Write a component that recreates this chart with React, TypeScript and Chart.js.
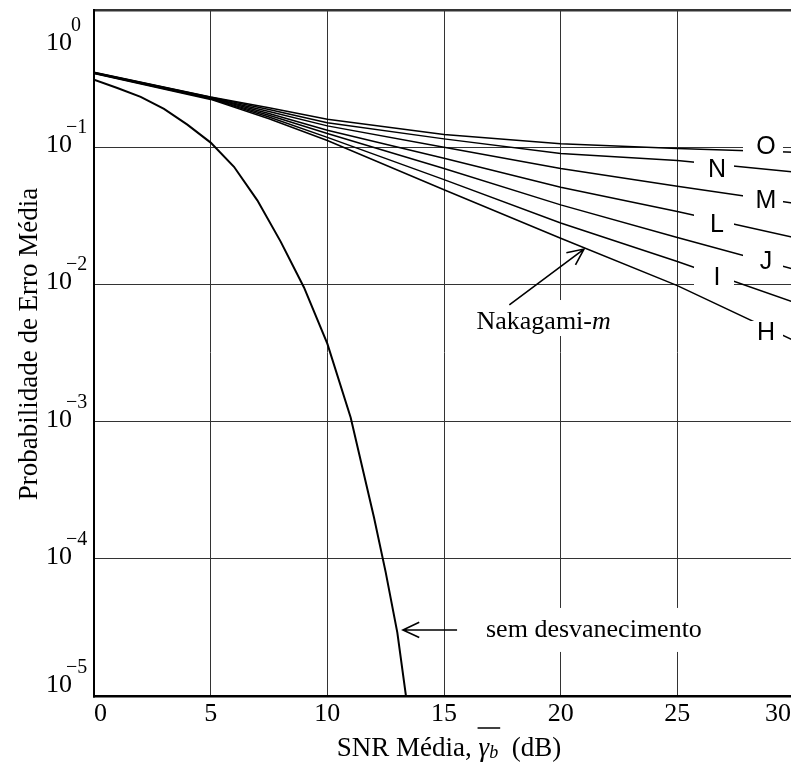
import React, { useEffect, useRef } from 'react';
import { Chart, registerables } from 'chart.js';

Chart.register(...registerables);

// ---- data ----
const snrFading = [0, 5, 7.5, 10, 15, 20, 25, 30];
const curveO = [0.352, 0.232, 0.194, 0.160, 0.124, 0.106, 0.098, 0.092];
const curveN = [0.350, 0.231, 0.188, 0.151, 0.115, 0.090, 0.080, 0.066];
const curveM = [0.349, 0.229, 0.182, 0.143, 0.100, 0.070, 0.052, 0.039];
const curveL = [0.348, 0.228, 0.176, 0.133, 0.083, 0.051, 0.034, 0.022];
const curveJ = [0.347, 0.226, 0.171, 0.126, 0.070, 0.038, 0.022, 0.0129];
const curveI = [0.346, 0.225, 0.166, 0.118, 0.058, 0.028, 0.0147, 0.0074];
const curveH = [0.345, 0.223, 0.161, 0.112, 0.049, 0.0217, 0.0098, 0.0039];
const curveNames = ['O', 'N', 'M', 'L', 'J', 'I', 'H'];
const labelSnr = [28.8, 26.7, 28.8, 26.7, 28.8, 26.7, 28.8];
const labelValue = [0.101, 0.0694, 0.0412, 0.0275, 0.0148, 0.0113, 0.0045];

const snrAwgn = [0, 1, 2, 3, 4, 5, 6, 7, 8, 9, 10, 11, 12, 12.5, 13, 13.37];
const awgn = [0.31, 0.27, 0.233, 0.19, 0.146, 0.108, 0.072, 0.041, 0.0205, 0.0095, 0.0037, 0.00107, 0.0002, 0.00008, 0.000029, 0.00001];

const xTicks = [0, 5, 10, 15, 20, 25, 30];
const yTicks = [1, 0.1, 0.01, 0.001, 0.0001, 0.00001];
const yExponents = [0, -1, -2, -3, -4, -5];

const fadingSeries = [curveO, curveN, curveM, curveL, curveJ, curveI, curveH];

const SERIF = '"Liberation Serif", "Times New Roman", serif';
const SANS = '"Liberation Sans", Arial, sans-serif';

function drawArrow(ctx: CanvasRenderingContext2D, x1: number, y1: number, x2: number, y2: number) {
  const ang = Math.atan2(y2 - y1, x2 - x1);
  const len = 18;
  const spread = (25 * Math.PI) / 180;
  ctx.beginPath();
  ctx.moveTo(x1, y1);
  ctx.lineTo(x2, y2);
  ctx.moveTo(x2 + len * Math.cos(ang + Math.PI - spread), y2 + len * Math.sin(ang + Math.PI - spread));
  ctx.lineTo(x2, y2);
  ctx.lineTo(x2 + len * Math.cos(ang + Math.PI + spread), y2 + len * Math.sin(ang + Math.PI + spread));
  ctx.stroke();
}

const overlayPlugin = {
  id: 'overlay',
  afterDraw(chart: any) {
    const ctx: CanvasRenderingContext2D = chart.ctx;
    const xs = chart.scales.x;
    const ys = chart.scales.y;
    const area = chart.chartArea;
    ctx.save();

    // curve labels (with white gaps in the lines)
    ctx.font = `25px ${SANS}`;
    ctx.textAlign = 'center';
    ctx.textBaseline = 'middle';
    curveNames.forEach((name, i) => {
      const px = xs.getPixelForValue(labelSnr[i]);
      const py = ys.getPixelForValue(labelValue[i]);
      ctx.fillStyle = '#fff';
      ctx.fillRect(px - 23, py - 11, 40, 22);
      ctx.fillStyle = '#000';
      ctx.fillText(name, px, py + 1);
    });

    // Nakagami-m annotation
    ctx.strokeStyle = '#000';
    ctx.lineWidth = 1.6;
    ctx.fillStyle = '#000';
    const nx = xs.getPixelForValue(19.27);
    const ny = ys.getPixelForValue(0.0055);
    ctx.font = `26px ${SERIF}`;
    const w1 = ctx.measureText('Nakagami-').width;
    ctx.font = `italic 26px ${SERIF}`;
    const w2 = ctx.measureText('m').width;
    const nStart = nx - (w1 + w2) / 2;
    ctx.fillStyle = '#fff';
    ctx.fillRect(nStart - 5, ny - 20, w1 + w2 + 10, 36);
    ctx.fillStyle = '#000';
    ctx.textAlign = 'left';
    ctx.textBaseline = 'alphabetic';
    ctx.font = `26px ${SERIF}`;
    ctx.fillText('Nakagami-', nStart, ny + 9);
    ctx.font = `italic 26px ${SERIF}`;
    ctx.fillText('m', nStart + w1, ny + 9);
    drawArrow(ctx, xs.getPixelForValue(17.8), ys.getPixelForValue(0.0071), xs.getPixelForValue(21.0), ys.getPixelForValue(0.0181));

    // sem desvanecimento annotation
    const sy = ys.getPixelForValue(0.0000303);
    const sx0 = xs.getPixelForValue(16.8);
    ctx.font = `26px ${SERIF}`;
    const sw = ctx.measureText('sem desvanecimento').width;
    ctx.fillStyle = '#fff';
    ctx.fillRect(sx0 - 6, sy - 22, sw + 12, 44);
    ctx.fillStyle = '#000';
    ctx.textBaseline = 'middle';
    ctx.fillText('sem desvanecimento', sx0, sy);
    drawArrow(ctx, xs.getPixelForValue(15.56), sy, xs.getPixelForValue(13.24), sy);

    // y tick labels 10^n
    yTicks.forEach((v, i) => {
      const gy = ys.getPixelForValue(v);
      const base = Math.min(Math.max(gy + 5, area.top + 40), area.bottom - 4);
      ctx.textBaseline = 'alphabetic';
      ctx.font = `26px ${SERIF}`;
      ctx.textAlign = 'right';
      ctx.fillText('10', area.left - 22, base);
      ctx.font = `20px ${SERIF}`;
      ctx.textAlign = 'left';
      const e = yExponents[i];
      const txt = e === 0 ? '0' : '\u2212' + Math.abs(e);
      ctx.fillText(txt, area.left - 22 - (e < 0 ? 6 : 1), base - 19);
    });

    // x tick labels
    ctx.font = `26px ${SERIF}`;
    ctx.textBaseline = 'alphabetic';
    xTicks.forEach((v, i) => {
      const gx = xs.getPixelForValue(v);
      let x = gx;
      let align: CanvasTextAlign = 'center';
      if (i === 0) align = 'left';
      if (i === xTicks.length - 1) {
        align = 'right';
        x = gx - 3;
      }
      ctx.textAlign = align;
      ctx.fillText(String(v), x, area.bottom + 25);
    });

    // x axis title: SNR Média, γ̄_b (dB)
    const p1 = 'SNR M\u00e9dia, ';
    const p4 = '  (dB)';
    ctx.font = `27px ${SERIF}`;
    const a1 = ctx.measureText(p1).width;
    const a4 = ctx.measureText(p4).width;
    ctx.font = `italic 27px ${SERIF}`;
    const a2 = ctx.measureText('\u03b3').width;
    ctx.font = `italic 18px ${SERIF}`;
    const a3 = ctx.measureText('b').width;
    const total = a1 + a2 + a3 + a4;
    const cx = (area.left + area.right) / 2 + 5;
    let tx = cx - total / 2;
    const tb = area.bottom + 60;
    ctx.textAlign = 'left';
    ctx.font = `27px ${SERIF}`;
    ctx.fillText(p1, tx, tb);
    tx += a1;
    ctx.font = `italic 27px ${SERIF}`;
    ctx.fillText('\u03b3', tx, tb);
    ctx.lineWidth = 1.5;
    ctx.beginPath();
    ctx.moveTo(tx - 1, tb - 28);
    ctx.lineTo(tx + a2 + a3 + 2, tb - 28);
    ctx.stroke();
    tx += a2;
    ctx.font = `italic 18px ${SERIF}`;
    ctx.fillText('b', tx, tb + 2);
    tx += a3;
    ctx.font = `27px ${SERIF}`;
    ctx.fillText(p4, tx, tb);

    // y axis title
    ctx.save();
    ctx.translate(37, (area.top + area.bottom) / 2 - 9);
    ctx.rotate(-Math.PI / 2);
    ctx.textAlign = 'center';
    ctx.font = `27px ${SERIF}`;
    ctx.fillText('Probabilidade de Erro M\u00e9dia', 0, 0);
    ctx.restore();

    ctx.restore();
  },
};

export default function App() {
  const ref = useRef<HTMLCanvasElement>(null);

  useEffect(() => {
    if (!ref.current) return;
    const fadingDatasets = fadingSeries.map((s, i) => ({
      label: curveNames[i],
      data: snrFading.map((x, j) => ({ x, y: s[j] })),
      borderColor: '#000',
      borderWidth: 1.5,
      pointRadius: 0,
      tension: 0,
      fill: false,
    }));
    const chart = new Chart(ref.current, {
      type: 'line',
      data: {
        datasets: [
          ...fadingDatasets,
          {
            label: 'sem desvanecimento',
            data: snrAwgn.map((x, j) => ({ x, y: awgn[j] })),
            borderColor: '#000',
            borderWidth: 2,
            pointRadius: 0,
            tension: 0,
            fill: false,
          },
        ],
      },
      options: {
        responsive: false,
        animation: false,
        devicePixelRatio: 1,
        layout: { padding: { left: 94, top: 10, right: 6, bottom: 73 } },
        plugins: { legend: { display: false }, tooltip: { enabled: false } },
        scales: {
          x: {
            type: 'linear',
            min: 0,
            max: 30,
            ticks: { display: false, stepSize: 5 },
            afterBuildTicks: (scale: any) => {
              scale.ticks = xTicks.map((v) => ({ value: v }));
            },
            grid: { color: '#333', lineWidth: 1, drawTicks: false },
            border: { display: true, color: '#000', width: 2.5 },
          },
          y: {
            type: 'logarithmic',
            min: 0.00001,
            max: 1,
            ticks: { display: false },
            afterBuildTicks: (scale: any) => {
              scale.ticks = yTicks.map((v) => ({ value: v }));
            },
            grid: {
              color: '#333',
              lineWidth: (c: any) => (c.tick && c.tick.value === 1 ? 2.5 : 1),
              drawTicks: false,
            },
            border: { display: true, color: '#000', width: 2 },
          },
        },
      },
      plugins: [overlayPlugin],
    } as any);
    return () => chart.destroy();
  }, []);

  return (
    <div
      style={{
        position: 'absolute',
        left: 0,
        top: 0,
        width: 791,
        height: 769,
        overflow: 'hidden',
        background: '#fff',
      }}
    >
      <canvas ref={ref} width={800} height={769} style={{ display: 'block', width: 800, height: 769 }} />
    </div>
  );
}
